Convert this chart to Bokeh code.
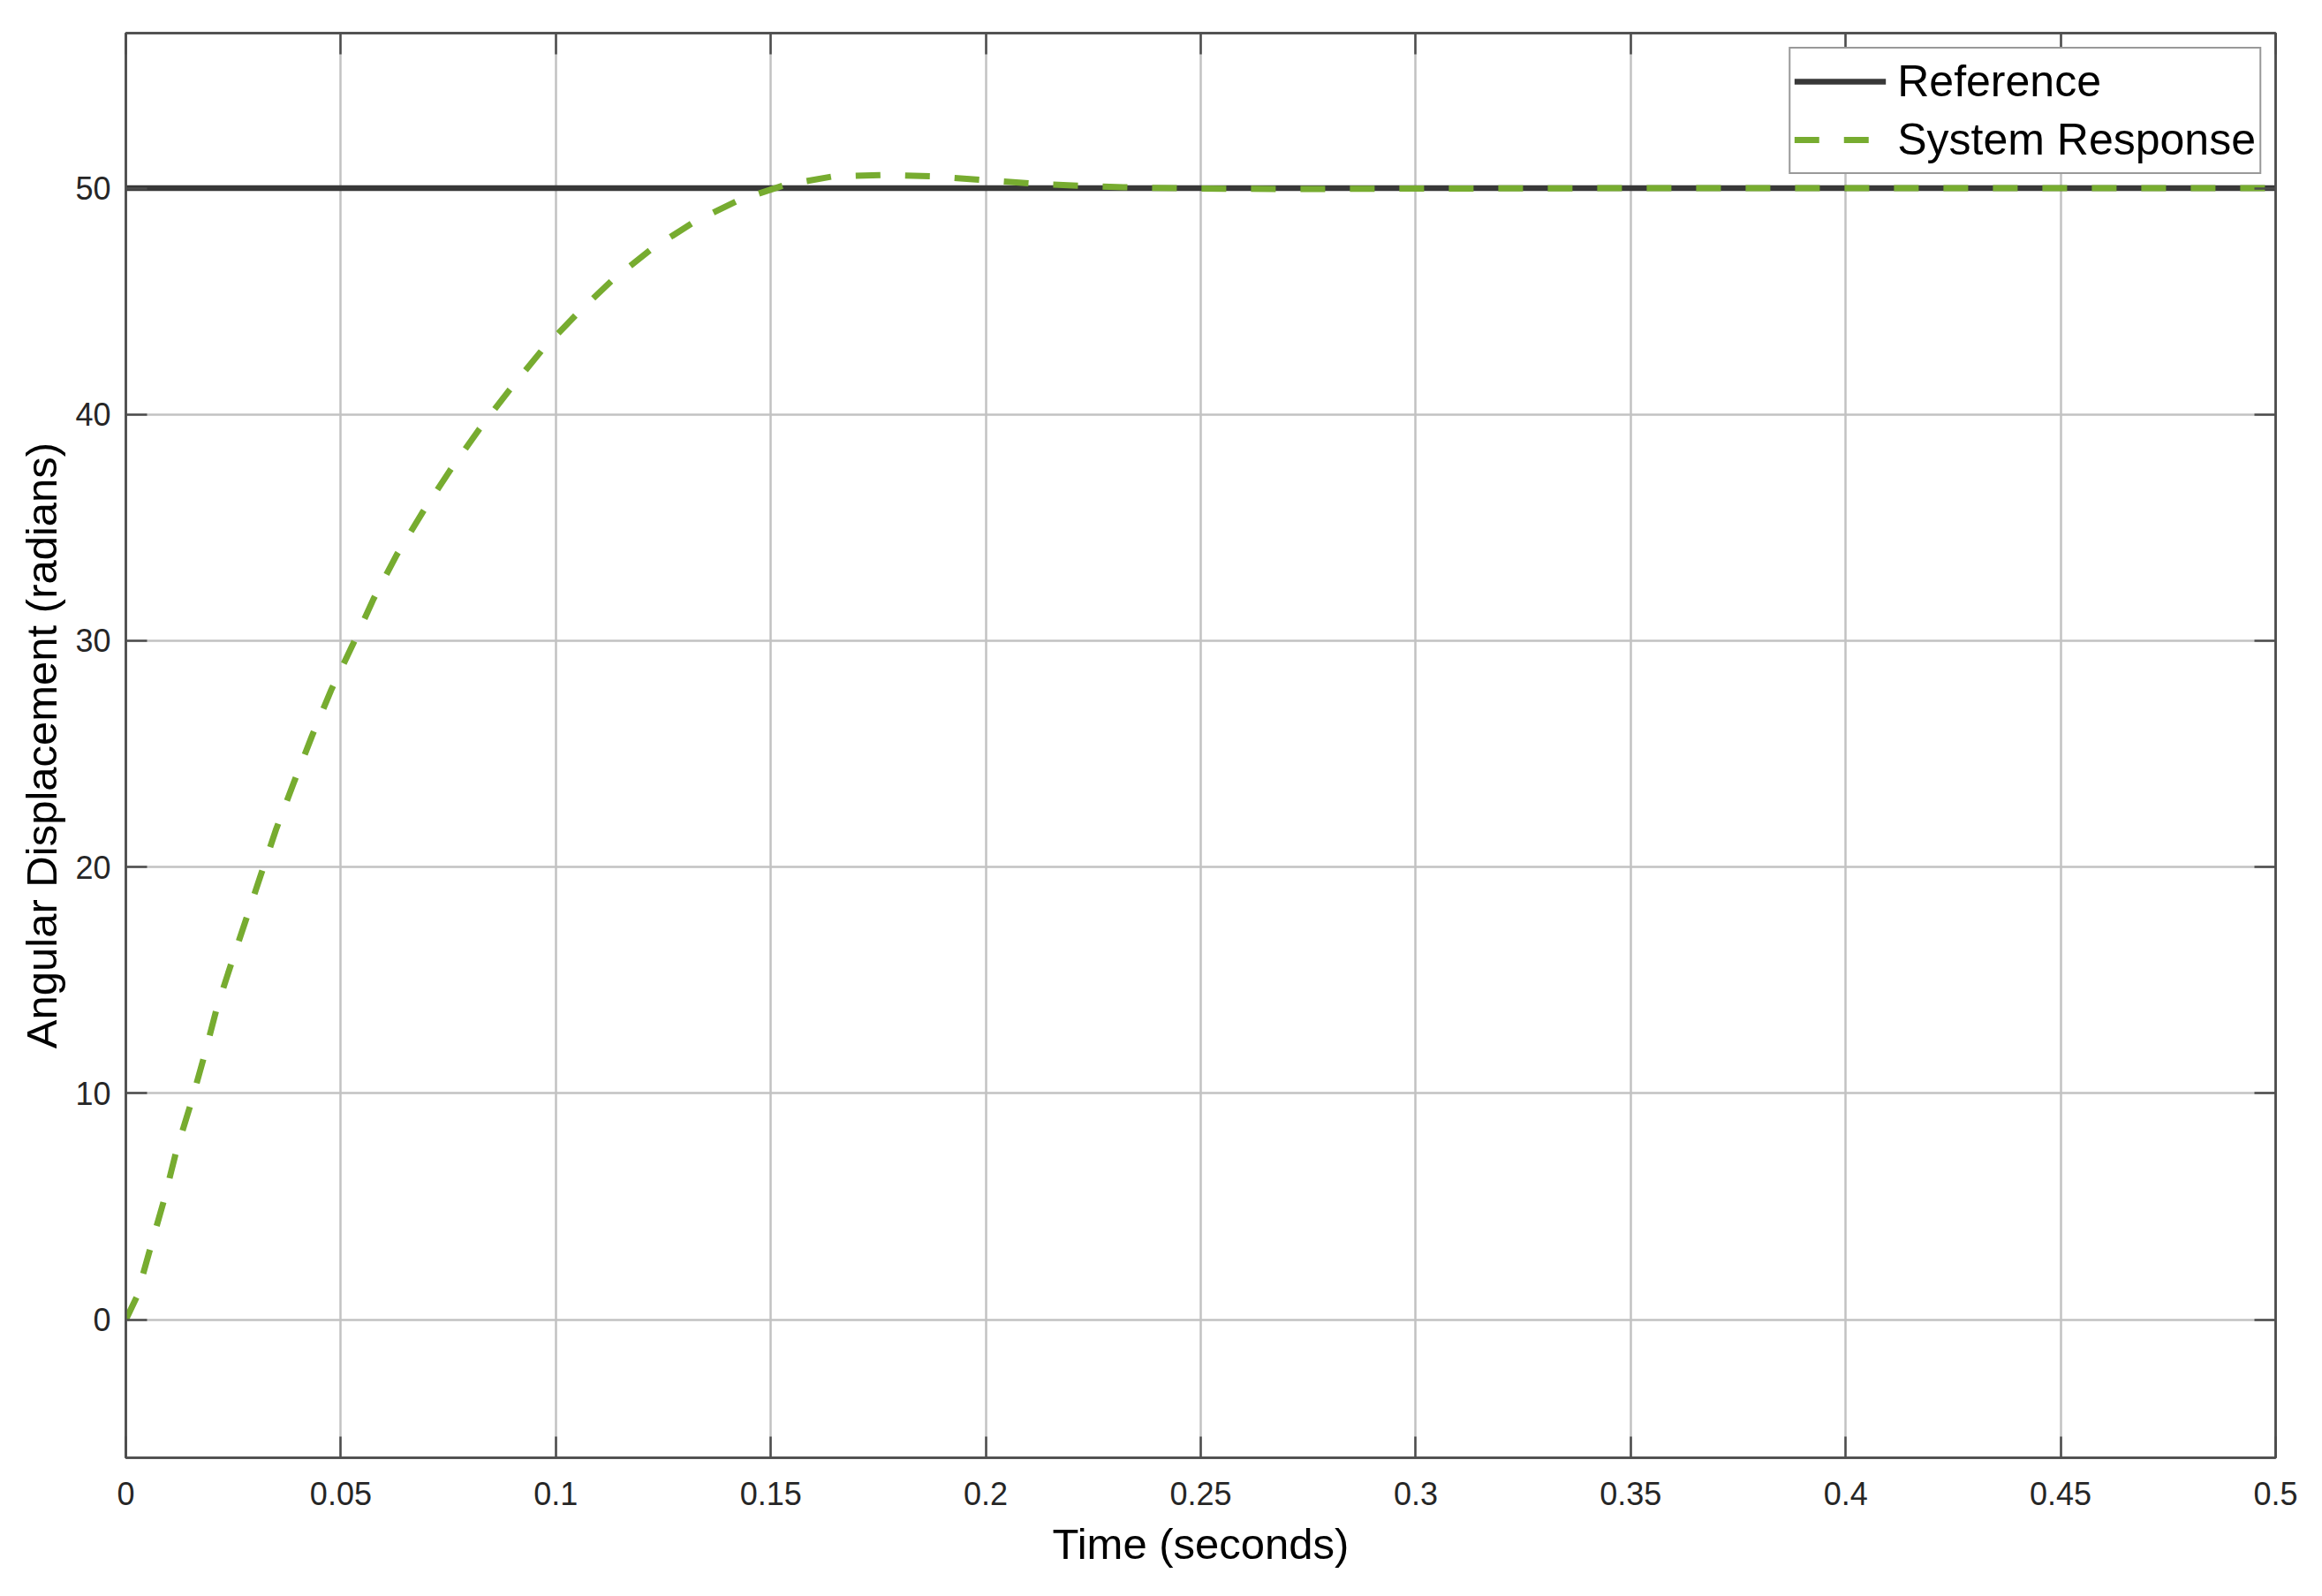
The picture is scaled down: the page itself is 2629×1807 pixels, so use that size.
from bokeh.plotting import figure
from bokeh.models import Range1d, FixedTicker, LinearAxis, Legend, LegendItem
from bokeh.embed import file_html
from bokeh.resources import INLINE

# ---- data ----
time_ref = [0.0, 0.5]
angle_ref = [50.0, 50.0]

time_resp = [0.0, 0.0025, 0.00575, 0.0089, 0.0118, 0.0152, 0.0183, 0.0212, 0.0248,
             0.0285, 0.0313, 0.0350, 0.0392, 0.0433, 0.0477, 0.0527, 0.0576, 0.0630,
             0.0691, 0.0753, 0.0822, 0.0891, 0.0966, 0.1047, 0.1132, 0.1222, 0.1321,
             0.1423, 0.1534, 0.1645, 0.1761, 0.1877, 0.1994, 0.2109, 0.2226, 0.234,
             0.25, 0.27, 0.30, 0.35, 0.40, 0.45, 0.5]
angle_resp = [0.0, 1.0, 3.2, 5.3, 7.5, 9.6, 11.7, 13.8, 15.9,
              18.0, 19.6, 21.7, 23.8, 25.8, 27.8, 29.8, 31.85, 33.8,
              35.7, 37.5, 39.35, 41.05, 42.8, 44.4, 45.95, 47.3, 48.5,
              49.45, 50.15, 50.52, 50.58, 50.52, 50.36, 50.2, 50.1, 50.03,
              49.98, 49.96, 49.98, 50.0, 50.0, 50.0, 50.0]

x_ticks = [0.0, 0.05, 0.1, 0.15, 0.2, 0.25, 0.3, 0.35, 0.4, 0.45, 0.5]
x_tick_labels = ["0", "0.05", "0.1", "0.15", "0.2", "0.25", "0.3", "0.35", "0.4", "0.45", "0.5"]
y_ticks = [0, 10, 20, 30, 40, 50]
y_tick_labels = ["0", "10", "20", "30", "40", "50"]

x_label = "Time (seconds)"
y_label = "Angular Displacement (radians)"
series_names = ["Reference", "System Response"]

# ---- styling ----
FONT = "Liberation Sans"
AX = "#4d4d4d"
TXT = "#262626"
GRID = "#c2c2c2"

W, H = 2613, 1791
p = figure(width=W, height=H, output_backend="svg", toolbar_location=None,
           x_range=Range1d(0.0, 0.5), y_range=Range1d(-6.1, 56.85),
           min_border_left=142, min_border_right=37, min_border_top=37,
           min_border_bottom=141, background_fill_color="white",
           border_fill_color="white")

p.outline_line_color = AX
p.outline_line_width = 2.5
p.outline_line_alpha = 1.0

xt = FixedTicker(ticks=x_ticks)
yt = FixedTicker(ticks=y_ticks)

def style_axis(ax, ticker, labels_vals, labels_txt, show_labels=True):
    ax.ticker = ticker
    ax.major_label_overrides = {v: s for v, s in zip(labels_vals, labels_txt)}
    ax.major_tick_in = 24
    ax.major_tick_out = 0
    ax.minor_tick_in = 0
    ax.minor_tick_out = 0
    ax.major_tick_line_color = AX
    ax.major_tick_line_width = 2.5
    ax.axis_line_color = AX
    ax.axis_line_width = 2.5
    ax.major_label_text_font = FONT
    ax.major_label_text_font_size = "36px"
    ax.major_label_text_color = TXT if show_labels else None

style_axis(p.xaxis[0], xt, x_ticks, x_tick_labels)
style_axis(p.yaxis[0], yt, y_ticks, y_tick_labels)
p.xaxis[0].major_label_standoff = 27
p.yaxis[0].major_label_standoff = 17

p.xaxis[0].axis_label = x_label
p.yaxis[0].axis_label = y_label
for ax in (p.xaxis[0], p.yaxis[0]):
    ax.axis_label_text_font = FONT
    ax.axis_label_text_font_size = "49px"
    ax.axis_label_text_font_style = "normal"
    ax.axis_label_text_color = "#000000"
p.xaxis[0].axis_label_standoff = 14
p.yaxis[0].axis_label_standoff = 8

# box ticks on top / right
top_ax = LinearAxis()
style_axis(top_ax, xt, x_ticks, x_tick_labels, show_labels=False)
top_ax.major_label_text_font_size = "1px"
top_ax.major_label_standoff = 0
right_ax = LinearAxis()
style_axis(right_ax, yt, y_ticks, y_tick_labels, show_labels=False)
right_ax.major_label_text_font_size = "1px"
right_ax.major_label_standoff = 0
p.add_layout(top_ax, "above")
p.add_layout(right_ax, "right")

p.xgrid.ticker = xt
p.ygrid.ticker = yt
for g in (p.xgrid[0], p.ygrid[0]):
    g.grid_line_color = GRID
    g.grid_line_width = 2.5
    g.grid_line_alpha = 1.0

r_ref = p.line(time_ref, angle_ref, line_color="#383838", line_width=6.5)
r_resp = p.line(time_resp, angle_resp, line_color="#77AC30", line_width=7,
                line_dash="28 28")

legend = Legend(items=[LegendItem(label=series_names[0], renderers=[r_ref]),
                       LegendItem(label=series_names[1], renderers=[r_resp])],
                location="top_right")
legend.margin = 16
legend.padding = 4
legend.spacing = 0
legend.label_height = 66
legend.glyph_height = 66
legend.glyph_width = 104
legend.label_standoff = 13
legend.label_text_font = FONT
legend.label_text_font_size = "50px"
legend.label_text_color = "#000000"
legend.border_line_color = "#333333"
legend.border_line_width = 2.5
legend.background_fill_color = "white"
legend.background_fill_alpha = 1.0
p.add_layout(legend)

open("out.html", "w").write(file_html(p, INLINE))
